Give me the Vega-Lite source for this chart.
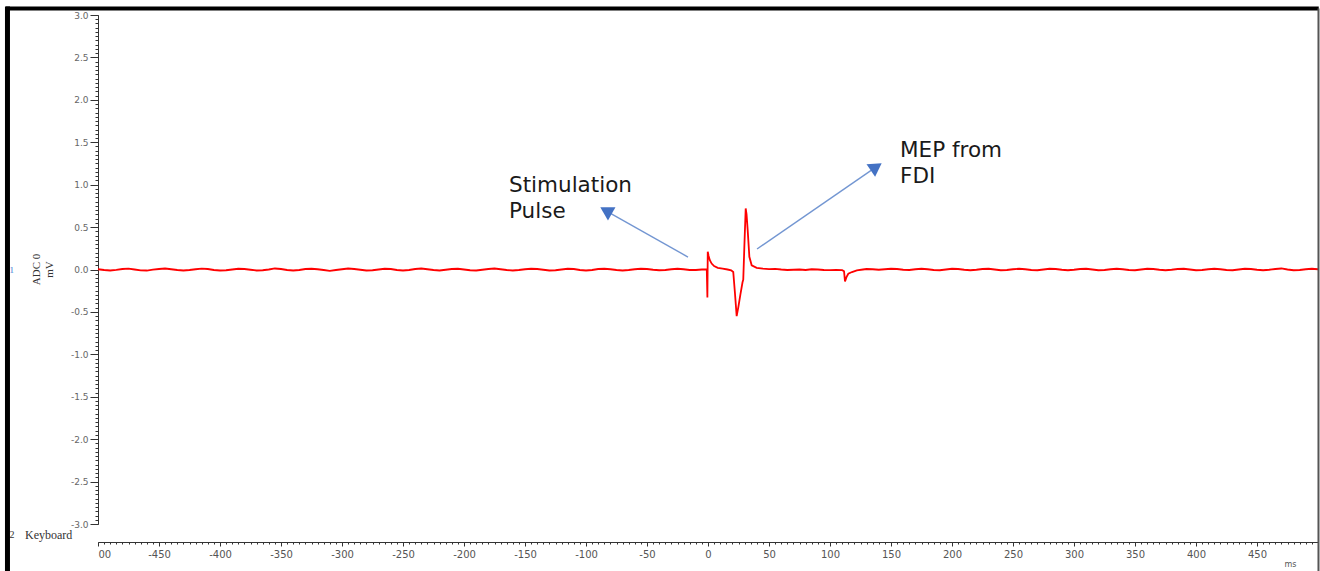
{
  "$schema": "https://vega.github.io/schema/vega-lite/v6.json",
  "width": 1220,
  "height": 509,
  "autosize": "none",
  "padding": {"left": 98, "top": 15, "right": 2, "bottom": 47},
  "background": "white",
  "config": {
    "view": {"stroke": null},
    "locale": {"number": {"decimal": ".", "thousands": ",", "grouping": [3], "currency": ["$", ""], "minus": "-"}}
  },
  "data": {"values": [{}]},
  "datasets": {
    "sig": [
      {"t":-500,"v":0.003},{"t":-495,"v":-0.006},{"t":-490,"v":-0.012},{"t":-485,"v":-0.004},{"t":-480,"v":0.006},
      {"t":-475,"v":0.01},{"t":-470,"v":0.0},{"t":-465,"v":-0.01},{"t":-460,"v":-0.012},{"t":-455,"v":-0.002},
      {"t":-450,"v":0.006},{"t":-445,"v":0.012},{"t":-440,"v":0.003},{"t":-435,"v":-0.006},{"t":-430,"v":-0.012},
      {"t":-425,"v":-0.006},{"t":-420,"v":0.003},{"t":-415,"v":0.01},{"t":-410,"v":0.006},{"t":-405,"v":-0.006},
      {"t":-400,"v":-0.012},{"t":-395,"v":-0.009},{"t":-390,"v":0.0},{"t":-385,"v":0.009},{"t":-380,"v":0.006},
      {"t":-375,"v":-0.003},{"t":-370,"v":-0.012},{"t":-365,"v":-0.009},{"t":-360,"v":0.0},{"t":-355,"v":0.012},
      {"t":-350,"v":0.006},{"t":-345,"v":-0.006},{"t":-340,"v":-0.012},{"t":-335,"v":-0.006},{"t":-330,"v":0.006},
      {"t":-325,"v":0.009},{"t":-320,"v":0.003},{"t":-315,"v":-0.006},{"t":-310,"v":-0.015},{"t":-305,"v":-0.006},
      {"t":-300,"v":0.003},{"t":-295,"v":0.012},{"t":-290,"v":0.006},{"t":-285,"v":-0.003},{"t":-280,"v":-0.012},
      {"t":-275,"v":-0.009},{"t":-270,"v":0.0},{"t":-265,"v":0.009},{"t":-260,"v":0.006},{"t":-255,"v":-0.006},
      {"t":-250,"v":-0.012},{"t":-245,"v":-0.006},{"t":-240,"v":0.006},{"t":-235,"v":0.012},{"t":-230,"v":0.003},
      {"t":-225,"v":-0.006},{"t":-220,"v":-0.012},{"t":-215,"v":-0.003},{"t":-210,"v":0.006},{"t":-205,"v":0.009},
      {"t":-200,"v":0.0},{"t":-195,"v":-0.009},{"t":-190,"v":-0.012},{"t":-185,"v":-0.003},{"t":-180,"v":0.006},
      {"t":-175,"v":0.012},{"t":-170,"v":0.003},{"t":-165,"v":-0.006},{"t":-160,"v":-0.012},{"t":-155,"v":-0.006},
      {"t":-150,"v":0.003},{"t":-145,"v":0.009},{"t":-140,"v":0.006},{"t":-135,"v":-0.003},{"t":-130,"v":-0.012},
      {"t":-125,"v":-0.009},{"t":-120,"v":0.0},{"t":-115,"v":0.009},{"t":-110,"v":0.006},{"t":-105,"v":-0.006},
      {"t":-100,"v":-0.012},{"t":-95,"v":-0.006},{"t":-90,"v":0.006},{"t":-85,"v":0.009},{"t":-80,"v":0.003},
      {"t":-75,"v":-0.006},{"t":-70,"v":-0.012},{"t":-65,"v":-0.006},{"t":-60,"v":0.003},{"t":-55,"v":0.009},
      {"t":-50,"v":0.006},{"t":-45,"v":-0.003},{"t":-40,"v":-0.009},{"t":-35,"v":-0.006},{"t":-30,"v":0.003},
      {"t":-25,"v":0.009},{"t":-20,"v":0.003},{"t":-15,"v":-0.006},{"t":-10,"v":-0.006},{"t":-5,"v":0.0},
      {"t":-1,"v":0.0},{"t":-0.5,"v":-0.33},{"t":-0.2,"v":0.21},{"t":0.5,"v":0.16},{"t":1.5,"v":0.11},
      {"t":3,"v":0.07},{"t":5,"v":0.04},{"t":8,"v":0.02},{"t":12,"v":0.01},{"t":16,"v":0.0},
      {"t":19,"v":-0.01},{"t":20.7,"v":-0.03},{"t":22.1,"v":-0.28},{"t":23.5,"v":-0.55},{"t":24.9,"v":-0.44},
      {"t":26.5,"v":-0.3},{"t":28.3,"v":-0.15},{"t":28.9,"v":-0.12},{"t":29.8,"v":0.27},{"t":30.9,"v":0.72},
      {"t":31.6,"v":0.65},{"t":32.5,"v":0.47},{"t":33.9,"v":0.15},{"t":35.8,"v":0.05},{"t":39.9,"v":0.02},
      {"t":45,"v":0.01},{"t":50,"v":0.005},{"t":55,"v":0.008},{"t":60,"v":0.0},{"t":65,"v":-0.006},
      {"t":70,"v":-0.003},{"t":75,"v":0.0},{"t":80,"v":-0.006},{"t":85,"v":0.003},{"t":90,"v":0.0},
      {"t":95,"v":-0.006},{"t":100,"v":-0.008},{"t":105,"v":-0.004},{"t":110,"v":-0.008},{"t":111.5,"v":-0.02},
      {"t":112.3,"v":-0.14},{"t":113.5,"v":-0.09},{"t":115,"v":-0.05},{"t":118,"v":-0.03},{"t":122,"v":-0.01},
      {"t":127,"v":0.0},{"t":130,"v":0.006},{"t":135,"v":0.003},{"t":140,"v":-0.003},{"t":145,"v":0.003},
      {"t":150,"v":0.009},{"t":155,"v":0.006},{"t":160,"v":-0.003},{"t":165,"v":-0.006},{"t":170,"v":0.003},
      {"t":175,"v":0.009},{"t":180,"v":0.003},{"t":185,"v":-0.006},{"t":190,"v":-0.009},{"t":195,"v":0.0},
      {"t":200,"v":0.009},{"t":205,"v":0.006},{"t":210,"v":-0.003},{"t":215,"v":-0.009},{"t":220,"v":-0.003},
      {"t":225,"v":0.006},{"t":230,"v":0.009},{"t":235,"v":0.0},{"t":240,"v":-0.009},{"t":245,"v":-0.006},
      {"t":250,"v":0.003},{"t":255,"v":0.009},{"t":260,"v":0.003},{"t":265,"v":-0.006},{"t":270,"v":-0.009},
      {"t":275,"v":0.0},{"t":280,"v":0.009},{"t":285,"v":0.006},{"t":290,"v":-0.003},{"t":295,"v":-0.009},
      {"t":300,"v":-0.003},{"t":305,"v":0.006},{"t":310,"v":0.009},{"t":315,"v":0.0},{"t":320,"v":-0.009},
      {"t":325,"v":-0.006},{"t":330,"v":0.003},{"t":335,"v":0.009},{"t":340,"v":0.003},{"t":345,"v":-0.006},
      {"t":350,"v":-0.009},{"t":355,"v":0.0},{"t":360,"v":0.009},{"t":365,"v":0.006},{"t":370,"v":-0.003},
      {"t":375,"v":-0.009},{"t":380,"v":-0.003},{"t":385,"v":0.006},{"t":390,"v":0.009},{"t":395,"v":0.0},
      {"t":400,"v":-0.009},{"t":405,"v":-0.006},{"t":410,"v":0.003},{"t":415,"v":0.009},{"t":420,"v":0.003},
      {"t":425,"v":-0.006},{"t":430,"v":-0.009},{"t":435,"v":0.0},{"t":440,"v":0.009},{"t":445,"v":0.006},
      {"t":450,"v":-0.003},{"t":455,"v":-0.009},{"t":460,"v":-0.003},{"t":465,"v":0.006},{"t":470,"v":0.012},
      {"t":475,"v":0.0},{"t":480,"v":-0.009},{"t":485,"v":-0.006},{"t":490,"v":0.003},{"t":495,"v":0.009},
      {"t":500,"v":0.003}
    ],
    "ann": [
      {"t":-163.1,"v":0.917,"label":"Stimulation"},
      {"t":-163.1,"v":0.604,"label":"Pulse"},
      {"t":157.4,"v":1.33,"label":"MEP from"},
      {"t":157.4,"v":1.016,"label":"FDI"}
    ],
    "arrows": [
      {"t1":-16.4,"v1":0.147,"t2":-85.0,"v2":0.702},
      {"t1":40.2,"v1":0.242,"t2":137.0,"v2":1.2}
    ]
  },
  "resolve": {"axis": {"x": "independent", "y": "independent"}},
  "layer": [
    {
      "data": {"name": "sig"},
      "mark": {"type": "line", "opacity": 0},
      "encoding": {
        "x": {"field": "t", "type": "quantitative", "scale": {"domain": [-500, 500], "nice": false, "zero": false},
          "axis": {"orient": "bottom", "offset": 18, "tickCount": 200, "labels": false, "domain": false, "grid": false, "title": null, "tickSize": 2, "tickColor": "#333"}},
        "y": {"field": "v", "type": "quantitative", "scale": {"domain": [-3, 3], "nice": false, "zero": false},
          "axis": {"orient": "left", "tickCount": 120, "labels": false, "domain": false, "grid": false, "title": null, "tickSize": 3, "tickColor": "#333"}}
      }
    },
    {
      "data": {"name": "sig"},
      "mark": {"type": "line", "color": "#ff0000", "strokeWidth": 1.8},
      "encoding": {
        "x": {"field": "t", "type": "quantitative", "scale": {"domain": [-500, 500], "nice": false, "zero": false},
          "axis": {"orient": "bottom", "offset": 18, "values": [-500,-450,-400,-350,-300,-250,-200,-150,-100,-50,0,50,100,150,200,250,300,350,400,450],
            "labelExpr": "datum.value == -500 ? '00' : datum.label",
            "grid": false, "tickSize": 4, "tickColor": "#333", "domainColor": "#333", "labelPadding": 3,
            "labelFont": "DejaVu Sans", "labelFontSize": 10, "labelColor": "#555",
            "title": "ms", "titleFont": "DejaVu Sans", "titleFontSize": 8, "titleFontWeight": "normal", "titleColor": "#555",
            "titleX": 1192, "titleY": 22, "titleAlign": "center", "titleBaseline": "middle"}},
        "y": {"field": "v", "type": "quantitative", "scale": {"domain": [-3, 3], "nice": false, "zero": false},
          "axis": {"orient": "left", "values": [-3,-2.5,-2,-1.5,-1,-0.5,0,0.5,1,1.5,2,2.5,3], "format": ".1f",
            "grid": false, "tickSize": 8, "tickColor": "#333", "domainColor": "#333", "labelPadding": 2,
            "labelFont": "DejaVu Sans", "labelFontSize": 9, "labelColor": "#666",
            "title": ["ADC 0", "mV"], "titleFont": "Liberation Serif", "titleFontSize": 11, "titleFontWeight": "normal", "titleColor": "#333",
            "titleX": -62, "titleY": 254, "titleAlign": "center", "titleBaseline": "middle", "titleAngle": -90}}
      }
    },
    {
      "data": {"name": "arrows"},
      "mark": {"type": "rule", "color": "#7396d2", "strokeWidth": 1.4},
      "encoding": {
        "x": {"field": "t1", "type": "quantitative", "scale": {"domain": [-500, 500], "nice": false, "zero": false}, "axis": null},
        "y": {"field": "v1", "type": "quantitative", "scale": {"domain": [-3, 3], "nice": false, "zero": false}, "axis": null},
        "x2": {"field": "t2"},
        "y2": {"field": "v2"}
      }
    },
    {
      "mark": {"type": "point", "shape": "triangle-up", "filled": true, "color": "#4472c4", "opacity": 1, "size": 230, "angle": 299.6},
      "encoding": {
        "x": {"datum": -83.6, "type": "quantitative", "scale": {"domain": [-500, 500], "nice": false, "zero": false}, "axis": null},
        "y": {"datum": 0.695, "type": "quantitative", "scale": {"domain": [-3, 3], "nice": false, "zero": false}, "axis": null}
      }
    },
    {
      "mark": {"type": "point", "shape": "triangle-up", "filled": true, "color": "#4472c4", "opacity": 1, "size": 230, "angle": 55.5},
      "encoding": {
        "x": {"datum": 137.9, "type": "quantitative", "scale": {"domain": [-500, 500], "nice": false, "zero": false}, "axis": null},
        "y": {"datum": 1.21, "type": "quantitative", "scale": {"domain": [-3, 3], "nice": false, "zero": false}, "axis": null}
      }
    },
    {
      "data": {"name": "ann"},
      "mark": {"type": "text", "align": "left", "baseline": "alphabetic", "font": "DejaVu Sans", "fontSize": 21.5, "color": "#1a1a1a"},
      "encoding": {
        "x": {"field": "t", "type": "quantitative", "scale": {"domain": [-500, 500], "nice": false, "zero": false}, "axis": null},
        "y": {"field": "v", "type": "quantitative", "scale": {"domain": [-3, 3], "nice": false, "zero": false}, "axis": null},
        "text": {"field": "label"}
      }
    },
    {
      "mark": {"type": "text", "align": "left", "baseline": "middle", "font": "Liberation Serif", "fontSize": 12, "color": "#333", "text": "Keyboard"},
      "encoding": {
        "x": {"datum": -559.8, "type": "quantitative", "scale": {"domain": [-500, 500], "nice": false, "zero": false}, "axis": null},
        "y": {"datum": -3.13, "type": "quantitative", "scale": {"domain": [-3, 3], "nice": false, "zero": false}, "axis": null}
      }
    },
    {
      "mark": {"type": "text", "align": "left", "baseline": "middle", "font": "Liberation Serif", "fontSize": 10, "color": "#333", "text": "2"},
      "encoding": {
        "x": {"datum": -572.5, "type": "quantitative", "scale": {"domain": [-500, 500], "nice": false, "zero": false}, "axis": null},
        "y": {"datum": -3.13, "type": "quantitative", "scale": {"domain": [-3, 3], "nice": false, "zero": false}, "axis": null}
      }
    },
    {
      "mark": {"type": "text", "align": "left", "baseline": "middle", "font": "Liberation Serif", "fontSize": 9, "color": "#3a7bd5", "text": "1"},
      "encoding": {
        "x": {"datum": -572.5, "type": "quantitative", "scale": {"domain": [-500, 500], "nice": false, "zero": false}, "axis": null},
        "y": {"datum": 0.0, "type": "quantitative", "scale": {"domain": [-3, 3], "nice": false, "zero": false}, "axis": null}
      }
    },
    {
      "mark": {"type": "rule", "color": "#000000", "strokeWidth": 4},
      "encoding": {
        "x": {"datum": -575.5, "type": "quantitative", "scale": {"domain": [-500, 500], "nice": false, "zero": false}, "axis": null},
        "x2": {"datum": 500.6},
        "y": {"datum": 3.077, "type": "quantitative", "scale": {"domain": [-3, 3], "nice": false, "zero": false}, "axis": null}
      }
    },
    {
      "mark": {"type": "rule", "color": "#000000", "strokeWidth": 5},
      "encoding": {
        "x": {"datum": -574.2, "type": "quantitative", "scale": {"domain": [-500, 500], "nice": false, "zero": false}, "axis": null},
        "y": {"datum": 3.1, "type": "quantitative", "scale": {"domain": [-3, 3], "nice": false, "zero": false}, "axis": null},
        "y2": {"datum": -3.7}
      }
    },
    {
      "mark": {"type": "rule", "color": "#555555", "strokeWidth": 2},
      "encoding": {
        "x": {"datum": 500.4, "type": "quantitative", "scale": {"domain": [-500, 500], "nice": false, "zero": false}, "axis": null},
        "y": {"datum": 3.077, "type": "quantitative", "scale": {"domain": [-3, 3], "nice": false, "zero": false}, "axis": null},
        "y2": {"datum": -3.7}
      }
    }
  ]
}
